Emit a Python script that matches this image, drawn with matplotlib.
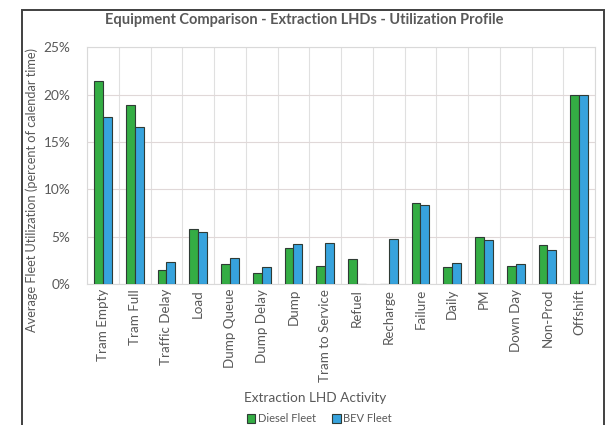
import numpy as np
import matplotlib
matplotlib.use('Agg')
import matplotlib.pyplot as plt
from matplotlib.patches import Rectangle

plt.rcParams['font.family'] = ['Lato', 'DejaVu Sans']

activities = ['Tram Empty', 'Tram Full', 'Traffic Delay', 'Load', 'Dump Queue',
              'Dump Delay', 'Dump', 'Tram to Service', 'Refuel', 'Recharge',
              'Failure', 'Daily', 'PM', 'Down Day', 'Non-Prod', 'Offshift']
diesel = [21.4, 18.9, 1.5, 5.8, 2.1, 1.1, 3.8, 1.9, 2.6, 0.0,
          8.5, 1.8, 5.0, 1.9, 4.1, 19.9]
bev = [17.6, 16.6, 2.35, 5.45, 2.7, 1.8, 4.2, 4.3, 0.0, 4.75,
       8.3, 2.2, 4.65, 2.05, 3.6, 19.9]

green = '#34ad44'
blue = '#37a3dd'
txt = '#595959'

fig = plt.figure(figsize=(6.06, 4.25), dpi=100)
fig.patches.append(Rectangle((0.036, -0.01), 0.96, 0.986, transform=fig.transFigure,
                             fill=False, edgecolor='#404040', linewidth=1.4))

ax = fig.add_axes([0.1436, 0.332, 0.8384, 0.557])
x = np.arange(len(activities))
w = 0.28
ax.bar(x - w / 2, diesel, w, color=green, edgecolor='#2f3b35', linewidth=0.8,
       label='Diesel Fleet', zorder=3)
ax.bar(x + w / 2, bev, w, color=blue, edgecolor='#2f3b35', linewidth=0.8,
       label='BEV Fleet', zorder=3)

ax.set_xlim(-0.5, len(activities) - 0.5)
ax.set_ylim(0, 25)
ax.set_yticks(np.arange(0, 26, 5))
ax.set_yticklabels([f'{v}%' for v in range(0, 26, 5)], color=txt, fontsize=9.8)
ax.set_xticks(x)
ax.set_xticklabels(activities, rotation=90, color=txt, fontsize=9.6)
ax.set_xticks(np.arange(-0.5, len(activities), 1), minor=True)
ax.tick_params(axis='both', which='both', length=0)
ax.tick_params(axis='y', pad=12)
ax.grid(axis='y', which='major', color='#e0d8d8', linewidth=0.8, zorder=0)
ax.grid(axis='x', which='minor', color='#e0e0e0', linewidth=0.8, zorder=0)
for s in ax.spines.values():
    s.set_color('#d9d9d9')

fig.text(0.502, 0.952, 'Equipment Comparison - Extraction LHDs - Utilization Profile',
         ha='center', va='center', fontsize=10.5, fontweight='bold', color=txt)
fig.text(0.053, 0.553, 'Average Fleet Utilization (percent of calendar time)',
         rotation=90, ha='center', va='center', color=txt, fontsize=9.2)
fig.text(0.52, 0.064, 'Extraction LHD Activity', ha='center', va='center',
         color=txt, fontsize=9.8)
fig.legend(loc='center', bbox_to_anchor=(0.527, 0.015), ncol=2, frameon=False,
           fontsize=8, handlelength=0.8, handleheight=0.8, handletextpad=0.2,
           columnspacing=1.5, labelcolor=txt)

fig.savefig('out.png', dpi=100)
